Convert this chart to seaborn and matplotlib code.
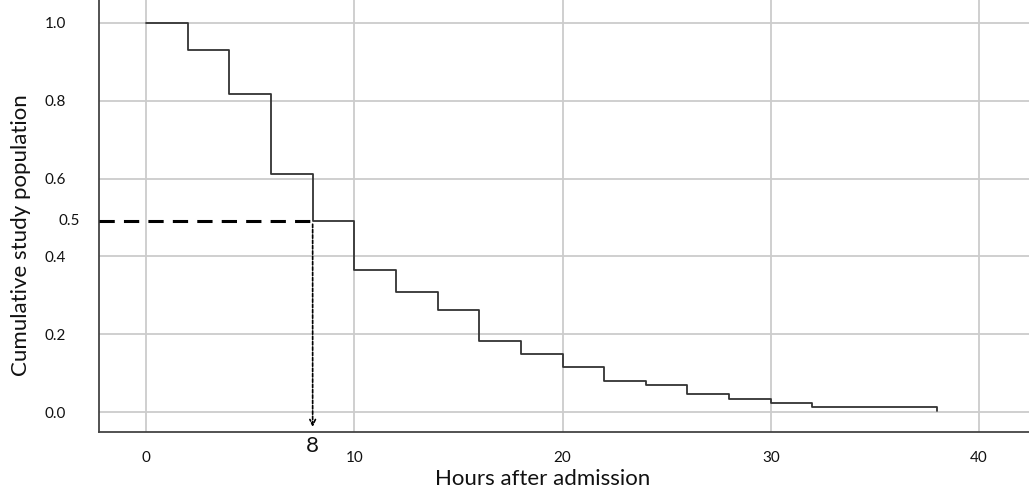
import seaborn as sns
import matplotlib.pyplot as plt
import pandas as pd

hours = [0, 2, 4, 6, 8, 10, 12, 14, 16, 18, 20, 22, 24, 26, 28, 30, 32, 38]
survival = [1.0, 0.93, 0.817, 0.613, 0.49, 0.364, 0.308, 0.262, 0.184, 0.149,
            0.115, 0.081, 0.070, 0.047, 0.035, 0.023, 0.013, 0.003]
x_ticks = [0, 10, 20, 30, 40]
y_ticks = [0.0, 0.2, 0.4, 0.6, 0.8, 1.0]
median_hour = 8
median_level = 0.49

sns.set_style("white")
plt.rcParams['font.family'] = ['Lato', 'DejaVu Sans']

df = pd.DataFrame({"hours": hours, "survival": survival})

fig = plt.figure(figsize=(10.29, 4.96), dpi=100)
ax = fig.add_axes([0.0962, 0.129, 0.9038, 0.871])

sns.lineplot(data=df, x="hours", y="survival", estimator=None,
             drawstyle="steps-post", color="#333333", linewidth=1.3, ax=ax)

ax.set_xlim(-2.26, 42.4)
ax.set_ylim(-0.051, 1.059)
ax.set_xticks(x_ticks)
ax.set_yticks(y_ticks)
ax.set_xticklabels([str(t) for t in x_ticks])
ax.set_yticklabels([f"{t:.1f}" for t in y_ticks])
ax.grid(True, color="#cccccc", linewidth=1.3)
ax.set_axisbelow(True)
ax.tick_params(axis="both", length=0, labelsize=11, colors="#111111")
ax.tick_params(axis="x", pad=14)
ax.tick_params(axis="y", pad=24)

for side in ["top", "right"]:
    ax.spines[side].set_visible(False)
for side in ["left", "bottom"]:
    ax.spines[side].set_color("#444444")
    ax.spines[side].set_linewidth(1.3)

# median marker
ax.plot([-2.26, median_hour], [median_level, median_level], color="black",
        linestyle=(0, (5, 3)), linewidth=2.2, zorder=5)
ax.annotate("", xy=(median_hour, -0.045), xytext=(median_hour, median_level),
            arrowprops=dict(arrowstyle="->", linestyle=(0, (2, 1.2)),
                            color="black", linewidth=1.2))
ax.text(median_hour, -0.062, "8", ha="center", va="top", fontsize=16,
        color="#111111", clip_on=False)
ax.text(-3.2, median_level, "0.5", ha="right", va="center", fontsize=11,
        color="#111111", clip_on=False)

ax.set_xlabel("Hours after admission", fontsize=16, color="#111111")
ax.set_ylabel("Cumulative study population", fontsize=16, color="#111111")
ax.xaxis.set_label_coords(0.477, -0.086)
ax.yaxis.set_label_coords(-0.073, 0.456)

fig.savefig("out.png", dpi=100)
